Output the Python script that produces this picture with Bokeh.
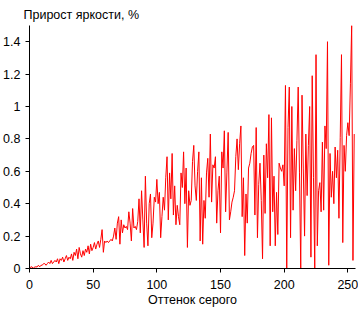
from bokeh.plotting import figure
from bokeh.models import FixedTicker, CustomJSTickFormatter, Range1d
from bokeh.embed import file_html
from bokeh.resources import INLINE

title_text = "Прирост яркости, %"
x_label = "Оттенок серого"
x_ticks = [0, 50, 100, 150, 200, 250]
y_ticks = [0, 0.2, 0.4, 0.6, 0.8, 1.0, 1.2, 1.4]

gray_level = list(range(256))
increase = [
    0.00, 0.01, 0.01, 0.00, 0.01, 0.01, 0.01, 0.02, 0.01, 0.02,
    0.02, 0.03, 0.03, 0.02, 0.03, 0.04, 0.03, 0.05, 0.03, 0.04,
    0.05, 0.04, 0.06, 0.03, 0.06, 0.05, 0.07, 0.04, 0.06, 0.08,
    0.05, 0.07, 0.06, 0.09, 0.05, 0.10, 0.08, 0.12, 0.06, 0.13,
    0.09, 0.07, 0.11, 0.08, 0.12, 0.10, 0.14, 0.09, 0.15, 0.11,
    0.13, 0.16, 0.12, 0.15, 0.17, 0.13, 0.18, 0.24, 0.10, 0.17,
    0.16, 0.17, 0.16, 0.17, 0.18, 0.17, 0.20, 0.25, 0.18, 0.28,
    0.32, 0.15, 0.30, 0.22, 0.27, 0.25, 0.26, 0.24, 0.35, 0.28,
    0.17, 0.37, 0.25, 0.26, 0.24, 0.29, 0.43, 0.22, 0.48, 0.30,
    0.13, 0.57, 0.28, 0.14, 0.40, 0.46, 0.19, 0.28, 0.44, 0.41,
    0.55, 0.40, 0.47, 0.19, 0.32, 0.44, 0.36, 0.56, 0.69, 0.30,
    0.59, 0.43, 0.71, 0.33, 0.51, 0.27, 0.39, 0.32, 0.27, 0.59,
    0.50, 0.72, 0.40, 0.62, 0.13, 0.48, 0.39, 0.42, 0.66, 0.76,
    0.51, 0.42, 0.60, 0.72, 0.17, 0.56, 0.15, 0.42, 0.31, 0.59,
    0.68, 0.44, 0.83, 0.41, 0.64, 0.62, 0.69, 0.28, 0.48, 0.57,
    0.22, 0.72, 0.62, 0.85, 0.35, 0.59, 0.84, 0.30, 0.35, 0.41,
    0.44, 0.48, 0.69, 0.80, 0.61, 0.77, 0.88, 0.32, 0.56, 0.08,
    0.46, 0.28, 0.62, 0.65, 0.71, 0.75, 0.76, 0.33, 0.87, 0.19,
    0.52, 0.65, 0.42, 0.06, 0.70, 0.34, 0.77, 0.56, 0.95, 0.14,
    0.93, 0.35, 0.57, 0.14, 0.47, 0.21, 0.65, 0.62, 0.60, 0.64,
    0.51, 1.13, 0.00, 0.87, 1.12, 0.19, 1.00, 0.36, 0.74, 0.48,
    0.79, 1.12, 0.59, 0.00, 1.07, 0.62, 0.20, 0.83, 0.45, 0.76,
    1.00, 0.07, 1.19, 0.56, 0.00, 1.32, 0.14, 0.48, 0.53, 0.35,
    0.78, 0.36, 0.88, 0.74, 1.40, 0.02, 0.71, 0.44, 0.60, 0.40,
    0.75, 0.56, 0.73, 0.31, 0.81, 1.32, 0.16, 0.76, 0.60, 0.82,
    0.90, 0.82, 1.14, 1.50, 0.05, 0.83,
]

FONT = "Liberation Sans"
FS = "12.5px"

p = figure(width=358, height=310, output_backend="svg", toolbar_location=None,
           x_range=Range1d(0, 256), y_range=Range1d(0, 1.5),
           min_border_left=28, min_border_right=3, min_border_top=25,
           min_border_bottom=42, background_fill_color="white",
           border_fill_color="white")
p.outline_line_color = None
p.grid.visible = False

p.title.text = title_text
p.title.text_font = FONT
p.title.text_font_size = FS
p.title.text_font_style = "normal"
p.title.text_color = "black"
p.title.align = "left"
p.title.offset = -6
p.title.standoff = 8

p.line(gray_level, increase, line_color="red", line_width=1)

fmt = CustomJSTickFormatter(code="return (Math.round(tick*10)/10).toString();")

p.xaxis.ticker = FixedTicker(ticks=x_ticks)
p.yaxis.ticker = FixedTicker(ticks=y_ticks)
p.yaxis.formatter = fmt
p.xaxis.axis_label = x_label
for ax in (p.xaxis, p.yaxis):
    ax.axis_line_color = "black"
    ax.major_tick_line_color = "black"
    ax.minor_tick_line_color = None
    ax.major_tick_out = 4
    ax.major_tick_in = 0
    ax.major_label_text_font = FONT
    ax.major_label_text_font_size = FS
    ax.major_label_text_color = "black"
    ax.axis_label_text_font = FONT
    ax.axis_label_text_font_size = FS
    ax.axis_label_text_font_style = "normal"
    ax.axis_label_text_color = "black"
p.xaxis.major_label_standoff = 7
p.xaxis.axis_label_standoff = 1
p.yaxis.major_label_standoff = 5

open("out.html", "w").write(file_html(p, INLINE))
